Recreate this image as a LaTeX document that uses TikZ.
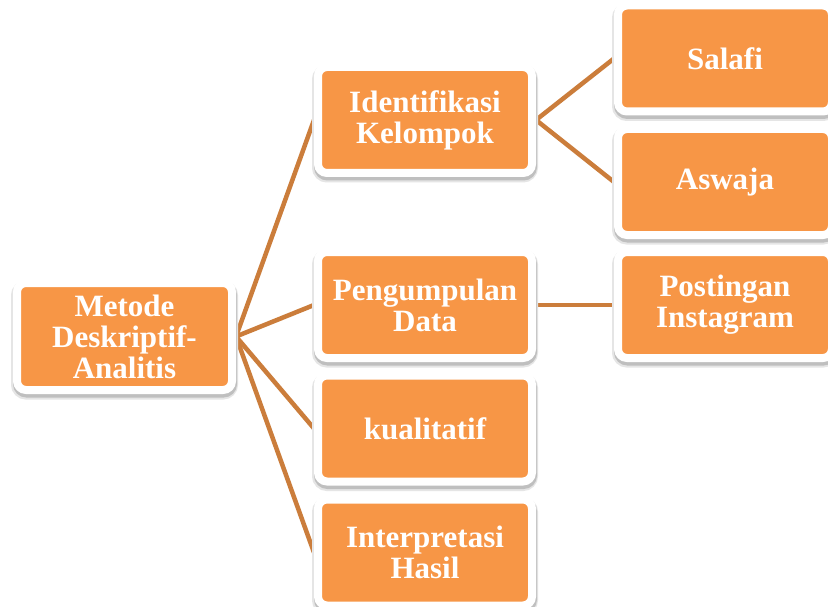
\documentclass[tikz,border=0pt]{standalone}
\usepackage{fontspec}
\setmainfont{Liberation Serif}
\usetikzlibrary{backgrounds}
\definecolor{boxor}{HTML}{F79646}
\definecolor{lineor}{HTML}{CB7D3B}
\pgfdeclarelayer{paper}
\pgfsetlayers{paper,background,main}
\begin{document}
\begin{tikzpicture}[x=1pt,y=-1pt,
  box/.style={fill=boxor, draw=white, line width=8pt, rounded corners=9pt,
    minimum width=214pt, minimum height=106pt, inner sep=0pt, align=center,
    text=white, font=\fontsize{31}{31}\selectfont\bfseries,
    preaction={draw=black!10, line width=12pt, transform canvas={yshift=-3.5pt}},
    preaction={draw=black!25, line width=9pt, transform canvas={yshift=-3pt, xshift=0.5pt}}},
  conn/.style={draw=lineor, line width=4.5pt}]
\useasboundingbox (0,0) rectangle (828,607);
\begin{pgfonlayer}{paper}
\fill[white] (0,0) rectangle (828,607);
\end{pgfonlayer}
\node[box, minimum width=215pt, minimum height=107pt] (met) at (124.5,336.5) {Metode\\Deskriptif-\\Analitis};
\node[box] (idn) at (425,120) {Identifikasi\\Kelompok};
\node[box] (pen) at (425,305) {Pengumpulan\\Data};
\node[box] (kua) at (425,428.5) {kualitatif};
\node[box] (int) at (425,552.5) {Interpretasi\\Hasil};
\node[box] (sal) at (725,58.5) {Salafi};
\node[box] (asw) at (725,182) {Aswaja};
\node[box] (pos) at (725,305) {Postingan\\Instagram};
\begin{scope}[on background layer]
\draw[conn] (met.east) -- (idn.west);
\draw[conn] (met.east) -- (pen.west);
\draw[conn] (met.east) -- (kua.west);
\draw[conn] (met.east) -- (int.west);
\draw[conn] (idn.east) -- (sal.west);
\draw[conn] (idn.east) -- (asw.west);
\draw[conn] (pen.east) -- (pos.west);
\end{scope}
\end{tikzpicture}
\end{document}
